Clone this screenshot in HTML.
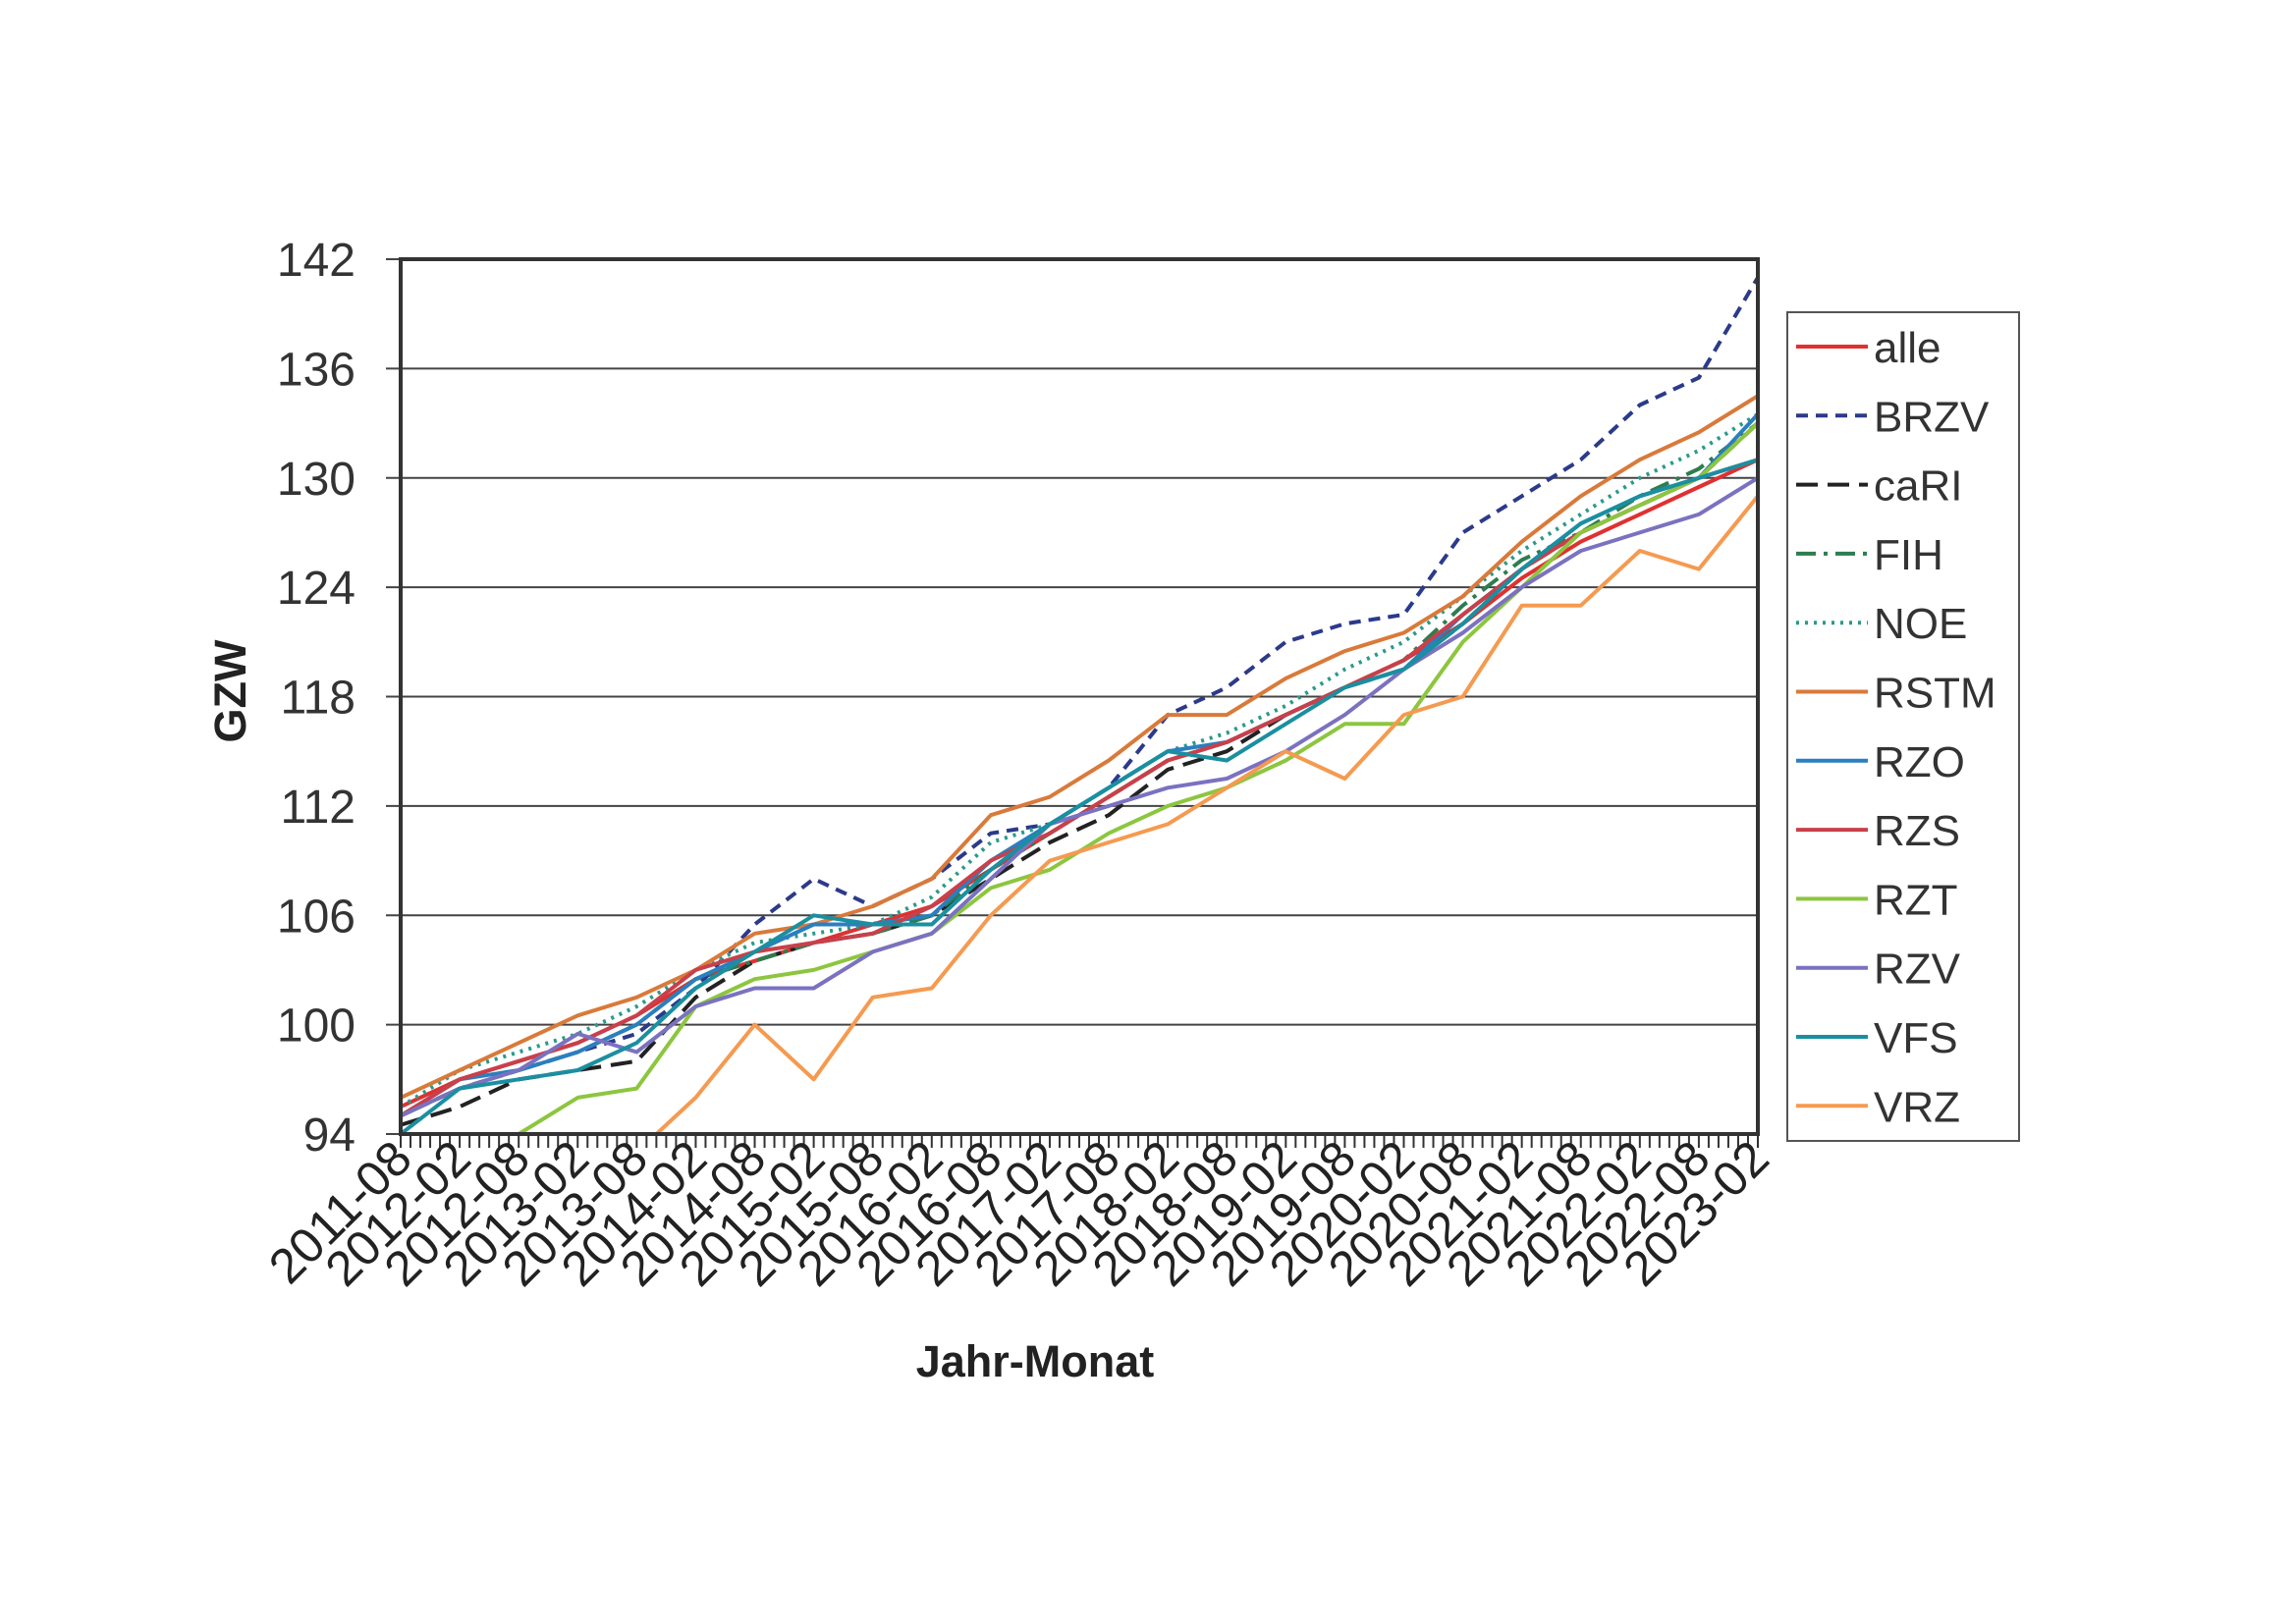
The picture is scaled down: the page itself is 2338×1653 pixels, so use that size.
<!DOCTYPE html>
<html><head><meta charset="utf-8"><style>
html,body{margin:0;padding:0;background:#fff;}
svg{display:block;font-family:"Liberation Sans",sans-serif;}
</style></head><body>
<svg id="chart" width="2338" height="1653" viewBox="0 0 2338 1653" xmlns="http://www.w3.org/2000/svg">
<defs><clipPath id="clip"><rect x="408" y="264" width="1382" height="891"/></clipPath></defs>
<g id="grid"></g><g id="series" clip-path="url(#clip)"></g><g id="axes"></g><g id="legend"></g>
</svg>
<script>
const yTicks=[94,100,106,112,118,124,130,136,142];
const xLabels=["2011-08","2012-02","2012-08","2013-02","2013-08","2014-02","2014-08","2015-02","2015-08","2016-02","2016-08","2017-02","2017-08","2018-02","2018-08","2019-02","2019-08","2020-02","2020-08","2021-02","2021-08","2022-02","2022-08","2023-02"];
const seriesNames=["alle","BRZV","caRI","FIH","NOE","RSTM","RZO","RZS","RZT","RZV","VFS","VRZ"];
const alle=[95.5,97,98,99,100.5,102.5,103.5,104.5,105.5,106.5,108.5,110.5,112.5,114.5,115.5,117,118.5,120,122,124.5,126.5,128,129.5,131];
const BRZV=[95,96.5,97.5,98.5,99.5,102,105.5,108,106.5,108,110.5,111,113,117,118.5,121,122,122.5,127,129,131,134,135.5,141];
const caRI=[94.5,95.5,97,97.5,98,101.5,103.5,104.5,105,106,108,110,111.5,114,115,117,118.5,119.5,122,125,127,128.5,130,133];
const FIH=[95,96.5,97.5,98.5,100,102.5,103.5,104.5,105,106,108.5,110.5,112.5,114.5,115.5,117,118.5,120,123,125.5,127,129,130.5,133];
const NOE=[95.5,97.5,98.5,99.5,101,103,104.5,105,105.5,107,110,111,113,115,116,117.5,119.5,121,123.5,126,128,130,131.5,133.5];
const RSTM=[96,97.5,99,100.5,101.5,103,105,105.5,106.5,108,111.5,112.5,114.5,117,117,119,120.5,121.5,123.5,126.5,129,131,132.5,134.5];
const RZO=[95,97,97.5,98.5,100,102.5,104,105.5,105.5,106,109,111,113,115,115.5,117,118.5,119.5,122.5,125,127.5,129,130,133.5];
const RZS=[95,97,98,99,100.5,103,104,104.5,105,106.5,109,110.5,112.5,114.5,115.5,117,118.5,120,122.5,125,127,128.5,130,131];
const RZT=[93,93.5,94,96,96.5,101,102.5,103,104,105,107.5,108.5,110.5,112,113,114.5,116.5,116.5,121,124,127,128.5,130,133];
const RZV=[95,96.5,97.5,99.5,98.5,101,102,102,104,105,108,111,112,113,113.5,115,117,119.5,121.5,124,126,127,128,130];
const VFS=[94,96.5,97,97.5,99,102,104,106,105.5,105.5,108.5,111,113,115,114.5,116.5,118.5,119.5,122,125,127.5,129,130,131];
const VRZ=[93,94,93,93,93,96,100,97,101.5,102,106,109,110,111,113,115,113.5,117,118,123,123,126,125,129];
const seriesValues=[alle,BRZV,caRI,FIH,NOE,RSTM,RZO,RZS,RZT,RZV,VFS,VRZ];
const styles=[["#e03030",""],["#2b3a8a","12,8"],["#222","22,10"],["#2e7d4f","20,8,4,8"],["#2a9a8a","3,6"],["#d97a3a",""],["#2a7fc0",""],["#c8404a",""],["#8cc63f",""],["#7a72c0",""],["#1a8fa0",""],["#f59a50",""]];
const NS="http://www.w3.org/2000/svg";
const L=408,R=1790,T=264,B=1155,MONTHS=138;
const y=v=>B-(v-94)/(142-94)*(B-T);
const xi=i=>L+i*(R-L)/(xLabels.length-1);
function mk(tag,attrs,parent,text){const e=document.createElementNS(NS,tag);for(const k in attrs)e.setAttribute(k,attrs[k]);if(text!==undefined)e.textContent=text;parent.appendChild(e);return e;}
const grid=document.getElementById('grid'),axes=document.getElementById('axes'),ser=document.getElementById('series'),leg=document.getElementById('legend');
yTicks.forEach(v=>{
  const g=mk('line',{x1:393,x2:R,y1:y(v),y2:y(v),stroke:'#444','stroke-width':2},grid);
  
  
  const t=mk('text',{x:362,y:y(v)+17,'text-anchor':'end','font-size':48,fill:'#333'},axes,String(v));
  
  
});
const frame=mk('rect',{x:L,y:T,width:R-L,height:B-T,fill:'none',stroke:'#333','stroke-width':4},axes);


for(let m=0;m<=MONTHS;m++){const x=L+m*(R-L)/MONTHS;const tk=mk('line',{x1:x,x2:x,y1:B,y2:B+14,stroke:'#333','stroke-width':2},axes);
  
  }
xLabels.forEach((s,i)=>{const x=xi(i)+14,yy=B+28;
  const t=mk('text',{x:x,y:yy,'text-anchor':'end','font-size':50,fill:'#222',transform:`rotate(-45 ${x} ${yy})`},axes,s);
  
  });
const xt=mk('text',{x:1054,y:1402,'text-anchor':'middle','font-size':45,'font-weight':'bold',fill:'#222'},axes,'Jahr-Monat');


const yt=mk('text',{x:250,y:704,'text-anchor':'middle','font-size':45,'font-weight':'bold',fill:'#222',transform:'rotate(-90 250 704)'},axes,'GZW');


seriesValues.forEach((vals,k)=>{
  const d=vals.map((v,i)=>(i?'L':'M')+xi(i).toFixed(1)+','+y(v).toFixed(1)).join(' ');
  const p=mk('path',{d:d,fill:'none',stroke:styles[k][0],'stroke-width':4,'stroke-dasharray':styles[k][1],'stroke-linejoin':'round'},ser);
  
  
});
const lb=mk('rect',{x:1820,y:318,width:236,height:844,fill:'#fff',stroke:'#555','stroke-width':2},leg);


seriesNames.forEach((n,k)=>{const yy=353+k*70.3;
  const g=mk('g',{},leg);
  
  
  mk('line',{x1:1829,x2:1902,y1:yy,y2:yy,stroke:styles[k][0],'stroke-width':4,'stroke-dasharray':styles[k][1]},g);
  mk('text',{x:1908,y:yy+16,'font-size':44,fill:'#333'},g,n);
});
</script>
</body></html>
